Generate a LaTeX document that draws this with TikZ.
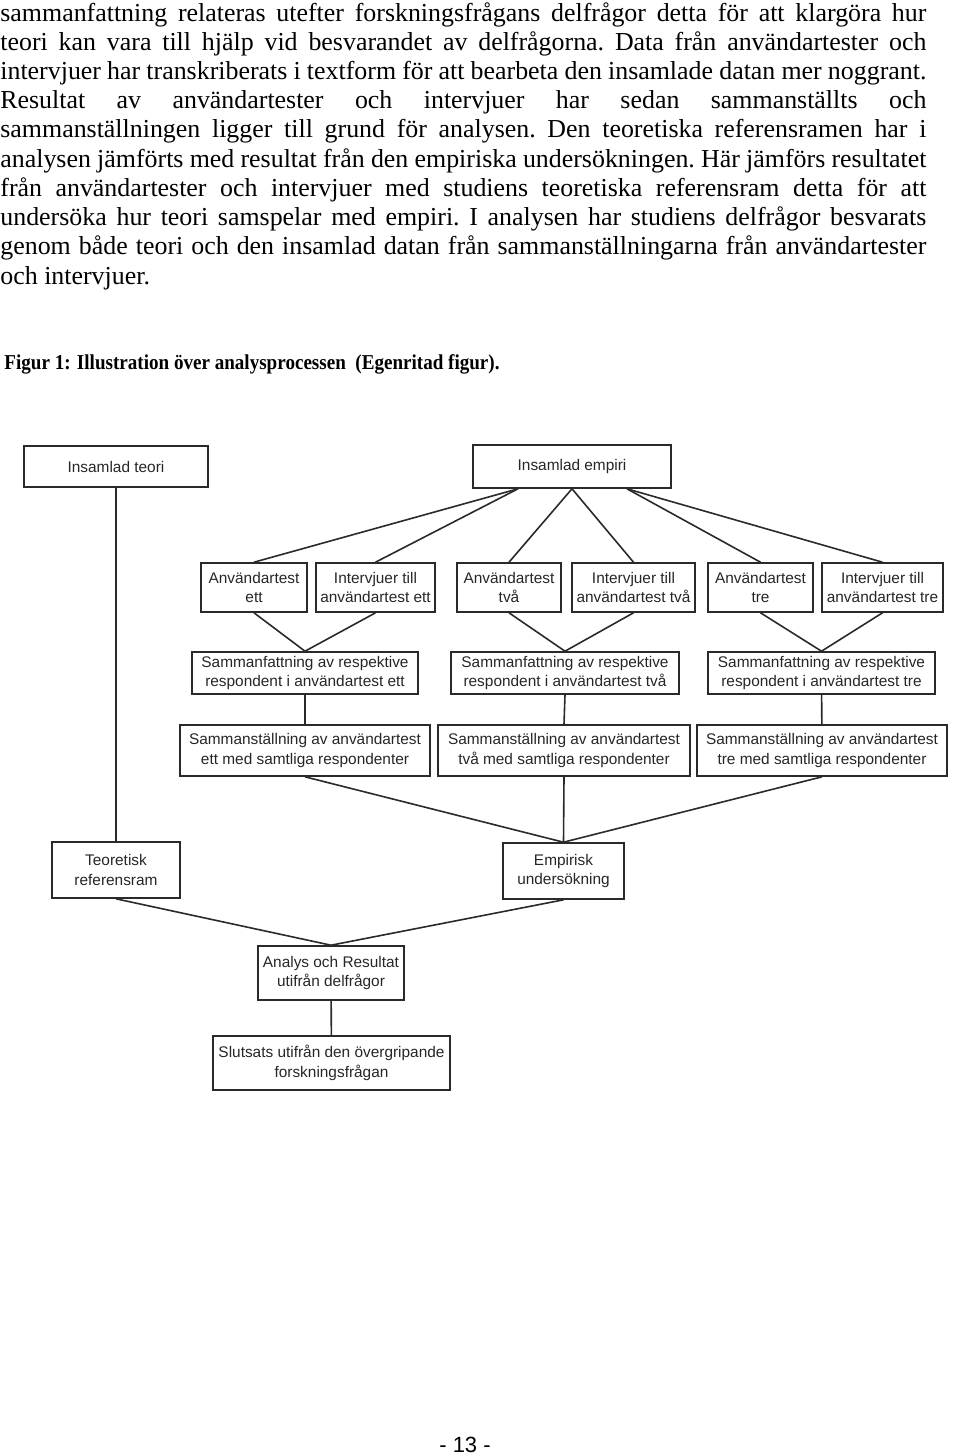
\documentclass[tikz,border=0pt]{standalone}
\usepackage{fontspec}
\usepackage{xcolor}
\setmainfont{Liberation Serif}
\newfontfamily\bodyfont{Liberation Serif}
\newfontfamily\captionfont{Liberation Serif}[FakeStretch=0.9]
\newfontfamily\boxfont{Liberation Sans}
\definecolor{linegray}{HTML}{2A2A2A}

\begin{document}
\begin{tikzpicture}[x=0.5pt, y=-0.5pt,
    box/.style={draw=linegray, line width=0.8pt, inner sep=0pt, align=center,
        text=black!85, font=\boxfont\fontsize{7.7pt}{9.65pt}\selectfont},
    link/.style={draw=linegray, line width=0.8pt},
    bodytext/.style={inner sep=0pt, text width=463pt, align=justify,
        font=\bodyfont\frenchspacing\fontsize{12.95pt}{14.62pt}\selectfont}]
    \useasboundingbox (0,0) rectangle (960,1456);

    % text above the figure
    \node[bodytext, anchor=base west] (para) at (0,21) {%
        sammanfattning relateras utefter forskningsfrågans delfrågor detta för att klargöra hur\linebreak
        teori kan vara till hjälp vid besvarandet av delfrågorna. Data från användartester och\linebreak
        intervjuer har transkriberats i textform för att bearbeta den insamlade datan mer noggrant.\linebreak
        Resultat av användartester och intervjuer har sedan sammanställts och\linebreak
        sammanställningen ligger till grund för analysen. Den teoretiska referensramen har i\linebreak
        analysen jämförts med resultat från den empiriska undersökningen. Här jämförs resultatet\linebreak
        från användartester och intervjuer med studiens teoretiska referensram detta för att\linebreak
        undersöka hur teori samspelar med empiri. I analysen har studiens delfrågor besvarats\linebreak
        genom både teori och den insamlad datan från sammanställningarna från användartester\linebreak
        och intervjuer.};
    \node[anchor=base west, inner sep=0pt, font=\captionfont\bfseries\fontsize{10.6pt}{13pt}\selectfont] (caption) at (4,369)
        {Figur 1: Illustration över analysprocessen\ \ (Egenritad figur).};

    % top row
    \node[box, minimum width=92pt, minimum height=20.5pt] (teori) at (116,466.5) {Insamlad teori};
    \node[box, minimum width=99pt, minimum height=21.5pt] (empiri) at (572,466.5) {Insamlad empiri};

    % tests and interviews
    \node[box, minimum width=53pt, minimum height=24.5pt] (test1) at (254,587.5) {Användartest\\ett};
    \node[box, minimum width=59.5pt, minimum height=24.5pt] (intv1) at (375.5,587.5) {Intervjuer till\\användartest ett};
    \node[box, minimum width=52pt, minimum height=24.5pt] (test2) at (509,587.5) {Användartest\\två};
    \node[box, minimum width=61.5pt, minimum height=24.5pt] (intv2) at (633.5,587.5) {Intervjuer till\\användartest två};
    \node[box, minimum width=52.5pt, minimum height=24.5pt] (test3) at (760.5,587.5) {Användartest\\tre};
    \node[box, minimum width=60.5pt, minimum height=24.5pt] (intv3) at (882.5,587.5) {Intervjuer till\\användartest tre};

    % summaries
    \node[box, minimum width=113pt, minimum height=21pt] (summ1) at (305,673) {Sammanfattning av respektive\\respondent i användartest ett};
    \node[box, minimum width=114pt, minimum height=21pt] (summ2) at (565,673) {Sammanfattning av respektive\\respondent i användartest två};
    \node[box, minimum width=113.5pt, minimum height=21pt] (summ3) at (821.5,673) {Sammanfattning av respektive\\respondent i användartest tre};

    % compilations
    \node[box, minimum width=125pt, minimum height=25.5pt] (comp1) at (305,750.5) {Sammanställning av användartest\\ett med samtliga respondenter};
    \node[box, minimum width=126pt, minimum height=25.5pt] (comp2) at (564,750.5) {Sammanställning av användartest\\två med samtliga respondenter};
    \node[box, minimum width=125pt, minimum height=25.5pt] (comp3) at (822,750.5) {Sammanställning av användartest\\tre med samtliga respondenter};

    % theory and empirical part
    \node[box, minimum width=64pt, minimum height=28pt] (teoretisk) at (116,870) {Teoretisk\\referensram};
    \node[box, minimum width=60.5pt, minimum height=28pt] (empirisk) at (563.5,871) {Empirisk\\undersökning};

    % analysis and conclusion
    \node[box, minimum width=73pt, minimum height=27pt] (analys) at (331,973) {Analys och Resultat\\utifrån delfrågor};
    \node[box, minimum width=118.5pt, minimum height=27pt] (slutsats) at (331.5,1063) {Slutsats utifrån den övergripande\\forskningsfrågan};

    \node[anchor=base, inner sep=0pt, font=\boxfont\fontsize{11pt}{13pt}\selectfont] (pagenum) at (465,1452) {- 13 -};

    % connectors
    \draw[link] (teori) -- (teoretisk);
    \draw[link] ([xshift=-27pt]empiri.south) -- (test1.north);
    \draw[link] ([xshift=-27pt]empiri.south) -- (intv1.north);
    \draw[link] (empiri.south) -- (test2.north);
    \draw[link] (empiri.south) -- (intv2.north);
    \draw[link] ([xshift=27.5pt]empiri.south) -- (test3.north);
    \draw[link] ([xshift=27.5pt]empiri.south) -- (intv3.north);

    \draw[link] (test1.south) -- (summ1.north);
    \draw[link] (intv1.south) -- (summ1.north);
    \draw[link] (test2.south) -- (summ2.north);
    \draw[link] (intv2.south) -- (summ2.north);
    \draw[link] (test3.south) -- (summ3.north);
    \draw[link] (intv3.south) -- (summ3.north);

    \draw[link] (summ1) -- (comp1);
    \draw[link] (summ2.south) -- (comp2.north);
    \draw[link] (summ3) -- (comp3);

    \draw[link] (comp1.south) -- (empirisk.north);
    \draw[link] (comp2.south) -- (empirisk.north);
    \draw[link] (comp3.south) -- (empirisk.north);

    \draw[link] (teoretisk.south) -- (analys.north);
    \draw[link] (empirisk.south) -- (analys.north);
    \draw[link] (analys) -- (slutsats);
\end{tikzpicture}
\end{document}
